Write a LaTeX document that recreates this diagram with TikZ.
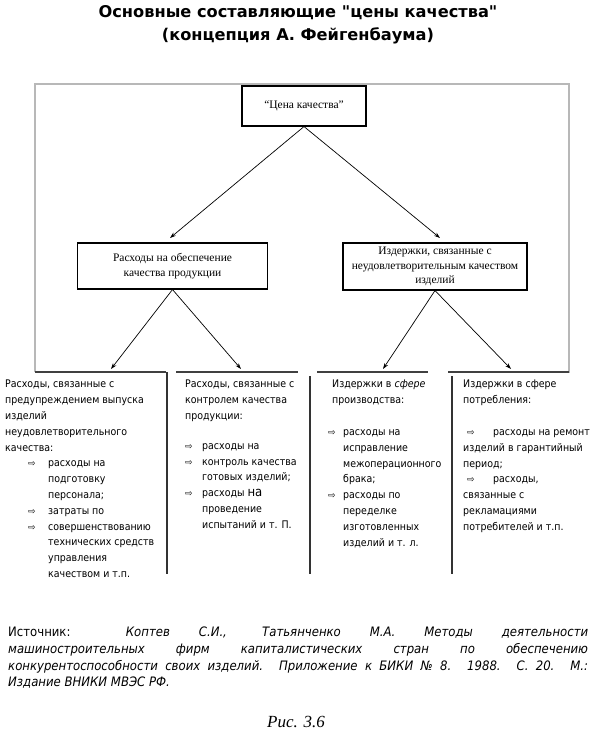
\documentclass[tikz,border=0pt]{standalone}
\usepackage{fontspec}
\setmainfont{Liberation Serif}
\newfontfamily\tahf{DejaVu Sans Condensed}[BoldFont={DejaVu Sans Condensed Bold},ItalicFont={DejaVu Sans Condensed Oblique},BoldItalicFont={DejaVu Sans Condensed Bold Oblique}]
\newfontfamily\symf{DejaVu Sans}
\usetikzlibrary{arrows.meta}
\newcommand\bul{{\symf\fontsize{9}{9}\selectfont ⇨}}
\newcommand\colfont{\tahf\fontsize{10.5}{15.8}\selectfont}
\newcommand\boxfont{\rmfamily\fontsize{11.5}{14.5}\selectfont}
\newcommand\titlefont{\symf\bfseries\fontsize{16.2}{18}\selectfont}
\newcommand\srcfont{\tahf\itshape\fontsize{13}{16.7}\selectfont}
\begin{document}
\begin{tikzpicture}[x=1pt,y=-1pt,
  box/.style={draw=black, line width=1.1pt, inner sep=2pt, align=center, font=\boxfont},
  arr/.style={-{Stealth[length=6pt,width=4pt]}, line width=0.7pt},
  frameline/.style={draw=black!28, line width=1.3pt},
  hdr/.style={draw=black!75, line width=1.3pt},
  divl/.style={draw=black!80, line width=1.2pt},
  colt/.style={anchor=north west, inner sep=0pt, align=left, font=\colfont},
]
\path[use as bounding box] (0,0) rectangle (600,736);

% title
\node[font=\titlefont] (t1) at (298,13) {Основные составляющие "цены качества"};
\node[font=\titlefont] (t2) at (298,36) {(концепция А. Фейгенбаума)};

% frame
\draw[frameline] (35,372) -- (35,84) -- (569,84) -- (569,373);

% boxes
\node[box, minimum width=124pt, minimum height=40pt] (top) at (304,106) {“Цена качества"};
\node[box, minimum width=190pt, minimum height=46pt] (lb) at (172.5,266) {Расходы на обеспечение\\качества продукции};
\node[box, minimum width=184pt, minimum height=47pt] (rb) at (435,266.5) {Издержки, связанные с\\неудовлетворительным качеством\\изделий};

% arrow tips
\coordinate (tipL) at (170,238);
\coordinate (tipR) at (440,238);
\coordinate (h1) at (111,369);
\coordinate (h2) at (241,369);
\coordinate (h3) at (383,369);
\coordinate (h4) at (511,369);

\draw[arr] (top.south) -- (tipL);
\draw[arr] (top.south) -- (tipR);
\draw[arr] (lb.south) -- (h1);
\draw[arr] (lb.south) -- (h2);
\draw[arr] (rb.south) -- (h3);
\draw[arr] (rb.south) -- (h4);

% column header lines and dividers
\draw[hdr] (35,372) -- (166,372);
\draw[hdr] (176,372) -- (298,372);
\draw[hdr] (317,372) -- (428,372);
\draw[hdr] (448,372) -- (569,372);
\draw[divl] (167,372) -- (167,574);
\draw[divl] (310,376) -- (310,574);
\draw[divl] (452,376) -- (452,574);

% columns
\node[colt] (c1) at (5,380) {Расходы, связанные с\\предупреждением выпуска\\изделий\\неудовлетворительного\\качества:\\
\hspace*{23pt}\makebox[20pt][l]{\bul}расходы на\\
\hspace*{43pt}подготовку\\
\hspace*{43pt}персонала;\\
\hspace*{23pt}\makebox[20pt][l]{\bul}затраты по\\
\hspace*{23pt}\makebox[20pt][l]{\bul}совершенствованию\\
\hspace*{43pt}технических средств\\
\hspace*{43pt}управления\\
\hspace*{43pt}качеством и т.п.};

\node[colt] (c2) at (185,380) {Расходы, связанные с\\контролем качества\\продукции:\\[14pt]
\makebox[17pt][l]{\bul}расходы на\\
\makebox[17pt][l]{\bul}контроль качества\\
\hspace*{17pt}готовых изделий;\\
\makebox[17pt][l]{\bul}расходы {\fontsize{13}{16}\selectfont на}\\
\hspace*{17pt}проведение\\
\hspace*{17pt}испытаний и т. П.};

\node[colt] (c3) at (328,380) {\hspace*{4pt}Издержки в {\itshape сфере}\\\hspace*{4pt}производства:\\[16pt]
\makebox[15pt][l]{\bul}расходы на\\
\hspace*{15pt}исправление\\
\hspace*{15pt}межоперационного\\
\hspace*{15pt}брака;\\
\makebox[15pt][l]{\bul}расходы по\\
\hspace*{15pt}переделке\\
\hspace*{15pt}изготовленных\\
\hspace*{15pt}изделий и т. л.};

\node[colt] (c4) at (463,380) {Издержки в сфере\\потребления:\\[16pt]
\hspace*{4pt}\makebox[26pt][l]{\bul}расходы на ремонт\\
изделий в гарантийный\\
период;\\
\hspace*{4pt}\makebox[26pt][l]{\bul}расходы,\\
связанные с\\
рекламациями\\
потребителей и т.п.};

% source
\node[anchor=north west, inner sep=0pt, align=left, font=\srcfont] (src) at (8,627) {\makebox[580pt][s]{{\upshape Источник:} Коптев С.И., Татьянченко М.А. Методы деятельности}\\
\makebox[580pt][s]{машиностроительных фирм капиталистических стран по обеспечению}\\
\makebox[580pt][s]{конкурентоспособности своих изделий. Приложение к БИКИ № 8. 1988. С. 20. М.:}\\
Издание ВНИКИ МВЭС РФ.};

\node[font=\rmfamily\itshape\fontsize{17}{17}\selectfont] (fig) at (296,722) {Рис. 3.6};
\end{tikzpicture}
\end{document}
